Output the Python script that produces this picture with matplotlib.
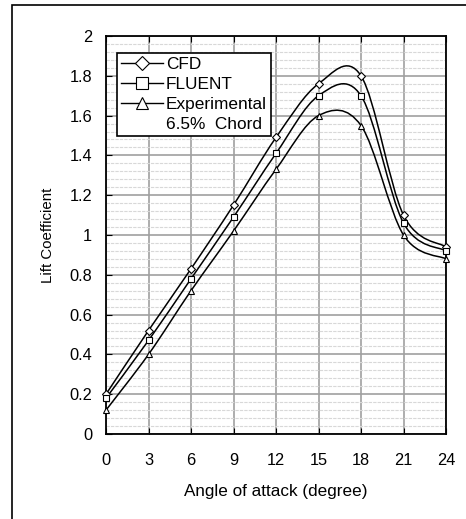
import numpy as np
import matplotlib
matplotlib.use("Agg")
import matplotlib.pyplot as plt
from matplotlib.path import Path
from matplotlib.patches import PathPatch, Rectangle
from matplotlib.lines import Line2D

plt.rcParams['font.family'] = ['Liberation Sans', 'DejaVu Sans']

angles = [0, 3, 6, 9, 12, 15, 18, 21, 24]
cfd = [0.20, 0.52, 0.83, 1.15, 1.49, 1.76, 1.80, 1.10, 0.94]
fluent = [0.18, 0.47, 0.78, 1.09, 1.41, 1.70, 1.70, 1.06, 0.92]
experimental = [0.12, 0.40, 0.72, 1.02, 1.33, 1.60, 1.55, 1.00, 0.88]
labels = ["CFD", "FLUENT", "Experimental"]
markers = ["D", "s", "^"]
xticks = [0, 3, 6, 9, 12, 15, 18, 21, 24]
yticks = [0, 0.2, 0.4, 0.6, 0.8, 1, 1.2, 1.4, 1.6, 1.8, 2]
ytick_labels = ["0", "0.2", "0.4", "0.6", "0.8", "1", "1.2", "1.4", "1.6", "1.8", "2"]


def smooth_path(x, y):
    """Excel-style smoothed line as cubic Bezier segments."""
    x = np.asarray(x, float)
    y = np.asarray(y, float)
    n = len(x)
    verts = [(x[0], y[0])]
    codes = [Path.MOVETO]
    for i in range(n - 1):
        xm1, ym1 = (x[i - 1], y[i - 1]) if i > 0 else (x[i], y[i])
        xp2, yp2 = (x[i + 2], y[i + 2]) if i + 2 < n else (x[i + 1], y[i + 1])
        c1 = (x[i] + (x[i + 1] - xm1) / 6, y[i] + (y[i + 1] - ym1) / 6)
        c2 = (x[i + 1] - (xp2 - x[i]) / 6, y[i + 1] - (yp2 - y[i]) / 6)
        verts += [c1, c2, (x[i + 1], y[i + 1])]
        codes += [Path.CURVE4] * 3
    return Path(verts, codes)


fig = plt.figure(figsize=(4.66, 5.19), dpi=100)
ax = fig.add_axes([106 / 466, 1 - 434 / 519, 340 / 466, 398 / 519])

# outer frame
fig.patches.append(Rectangle((12 / 466, -0.1), 1.2, (1 - 5 / 519) + 0.1,
                             transform=fig.transFigure, fill=False,
                             edgecolor='black', lw=1.2))

handles = []
for ys, lab, m in zip([cfd, fluent, experimental], labels, markers):
    ax.add_patch(PathPatch(smooth_path(angles, ys), fill=False,
                           edgecolor='black', lw=1.1, zorder=3))
    msz = 4.2 if m == "D" else 5
    ax.plot(angles, ys, linestyle='none', marker=m, markersize=msz,
            markerfacecolor='white', markeredgecolor='black',
            markeredgewidth=0.8, zorder=4, clip_on=False)
    handles.append(Line2D([], [], color='black', lw=1.0, marker=m,
                          markersize=msz + 3, markerfacecolor='white',
                          markeredgecolor='black', markeredgewidth=0.8))

handles.append(Line2D([], [], color='none'))
leg_labels = labels + ["6.5%  Chord"]

ax.set_xlim(0, 24)
ax.set_ylim(0, 2)
ax.set_xticks(xticks)
ax.set_xticklabels([str(t) for t in xticks])
ax.set_yticks(yticks)
ax.set_yticklabels(ytick_labels)
ax.set_yticks(np.arange(0, 2.0001, 0.04), minor=True)

ax.grid(True, which='major', color='#a0a0a0', lw=1.2, zorder=1)
ax.grid(True, which='minor', axis='y', color='#d8d8d8', lw=0.8,
        linestyle=(0, (3, 1)), zorder=0)
ax.tick_params(axis='both', which='major', direction='in', length=4,
               labelsize=11.8, colors='black', top=True)
ax.tick_params(axis='y', which='major', pad=10)
ax.tick_params(axis='y', which='minor', length=0)
ax.tick_params(axis='x', pad=14)
for s in ax.spines.values():
    s.set_color('black')
    s.set_linewidth(1.3)

ax.set_xlabel("Angle of attack (degree)", fontsize=12.3, labelpad=11)
ax.set_ylabel("Lift Coefficient", fontsize=10.8, labelpad=10)

leg = ax.legend(handles, leg_labels, loc='upper left',
                bbox_to_anchor=(11 / 340, 1 - 17 / 398), fontsize=12.4,
                frameon=True, fancybox=False, framealpha=1,
                edgecolor='black', handlelength=2.4, handletextpad=0.2,
                labelspacing=0.28, borderpad=0.25, borderaxespad=0)
leg.get_frame().set_linewidth(1.2)
leg.set_zorder(5)

fig.savefig("out.png", dpi=100)
